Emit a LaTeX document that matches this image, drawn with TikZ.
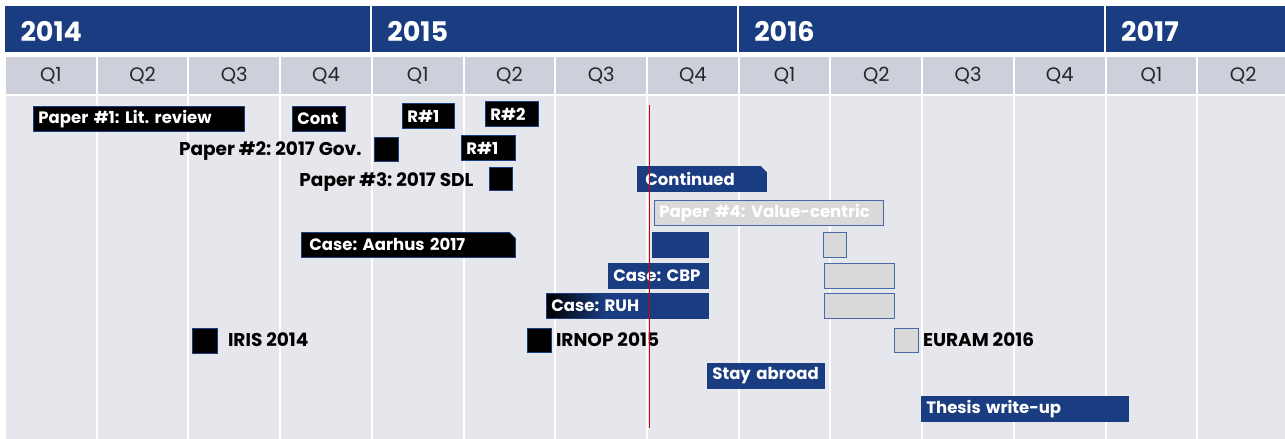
\documentclass[tikz,border=0pt]{standalone}
\usepackage{fontspec}
\setmainfont{Poppins}
\usetikzlibrary{positioning,shapes.misc}

\definecolor{navy}{HTML}{1A3D82}
\definecolor{qgrey}{HTML}{CDCFDA}
\definecolor{bodygrey}{HTML}{E6E7EC}
\definecolor{boxgrey}{HTML}{D9D9D9}
\definecolor{edgeblue}{HTML}{4A69A8}

\begin{document}
\begin{tikzpicture}[
    x=1pt, y=-1pt,
    year/.style={anchor=west, text=white, font=\bfseries\fontsize{27}{30}\selectfont},
    quarter/.style={text=black!85, font=\fontsize{19.5}{22}\selectfont},
    task/.style={rectangle, draw=navy, line width=0.8pt, anchor=north west, minimum height=25pt, inner xsep=5pt, inner ysep=0pt, align=left, text=white, font=\bfseries\fontsize{16.5}{19}\selectfont,
        execute at begin node={\hbox\bgroup\frenchspacing}, execute at end node={\egroup}},
    blacktask/.style={task, fill=black},
    bluetask/.style={task, fill=navy},
    greytask/.style={task, fill=boxgrey, draw=edgeblue},
    % black fading into navy over the left part of the bar, in thin strips
    fadetask/.style={bluetask, path picture={
        \foreach \i in {0,...,29} {
            \pgfmathtruncatemacro\p{\i*100/29}
            \fill[navy!\p!black] ([xshift=\i*2pt]path picture bounding box.north west)
                rectangle ([xshift=\i*2pt+2.3pt]path picture bounding box.south west);
        }}},
    snipped/.style={chamfered rectangle, chamfered rectangle corners=north east, chamfered rectangle xsep=3pt, chamfered rectangle ysep=3pt},
    barw/.style={text width=#1},
    marker/.style={rectangle, draw=navy, line width=0.8pt, fill=black, anchor=north west, minimum size=24pt, inner sep=0pt},
    note/.style={text=black, font=\bfseries\fontsize{18.5}{20}\selectfont\frenchspacing},
    nowline/.style={red!85!black, line width=1pt}
]
\useasboundingbox (0,0) rectangle (1285,439);

% Quarter columns
\foreach \q in {0,...,13} {
    \pgfmathsetmacro\xl{5+91.72*\q}
    \pgfmathtruncatemacro\qn{mod(\q,4)+1}
    \fill[qgrey] (\xl+1,57) rectangle (\xl+90.72,94);
    \fill[bodygrey] (\xl+1,96) rectangle (\xl+90.72,439);
    \node[quarter] (q\q) at (\xl+45.86,76) {Q\qn};
}

% Year header
\foreach \yr [count=\k from 0] in {2014,2015,2016,2017} {
    \pgfmathsetmacro\xl{5+366.88*\k}
    \fill[navy] (\xl,6) rectangle (\xl+364.88,52);
    \node[year] (y\yr) at (\xl+12,31) {\yr};
}

% Row 1-3: papers
\node[blacktask, barw=201pt] (lit) at (33,106) {Paper \#1: Lit. review};
\node[blacktask, barw=43pt] (cont) at (292,106) {Cont};
\node[blacktask, barw=42pt] (revA) at (402,103) {R\#1};
\node[blacktask, barw=43pt] (revB) at (485,101) {R\#2};
\node[marker] (gov) at (374,137) {};
\node[note, anchor=base east] (govtext) at (365,155.5) {Paper \#2: 2017 Gov.};
\node[blacktask, barw=44pt] (revC) at (461,135) {R\#1};
\node[marker, minimum size=23pt] (sdl) at (489,167) {};
\node[note, anchor=base east] (sdltext) at (477,186.5) {Paper \#3: 2017 SDL};

% Row 4-5: paper 4
\node[bluetask, snipped, barw=113pt] (continued) at (637,166) {Continued};
\node[greytask, barw=219pt, text=white] (value) at (654,200) {Paper \#4: Value-centric};

% Row 6-8: cases
\node[blacktask, snipped, barw=198pt] (aarhus) at (301,232) {Case: Aarhus 2017};
\node[bluetask, minimum width=56pt, inner xsep=0pt] (aarhusB) at (652,232) {};
\node[greytask, minimum width=23pt, inner xsep=0pt] (aarhusC) at (823,232) {};
\node[bluetask, barw=90pt] (cbp) at (608,263) {Case: CBP};
\node[greytask, minimum width=70pt, inner xsep=0pt] (cbpB) at (824,263) {};
\node[fadetask, barw=152pt] (ruh) at (546,293) {Case: RUH};
\node[greytask, minimum width=70pt, inner xsep=0pt] (ruhB) at (824,293) {};

% Row 9: conferences
\node[marker, minimum size=25pt] (iris) at (192,328) {};
\node[note, anchor=base west] (iristext) at (224.5,346.5) {IRIS 2014};
\node[marker] (irnop) at (527,328) {};
\node[note, anchor=base west] (irnoptext) at (552.5,346.5) {IRNOP 2015};
\node[marker, fill=boxgrey, draw=edgeblue] (euram) at (894,328) {};
\node[note, anchor=base west] (euramtext) at (919.5,346.5) {EURAM 2016};

% Row 10-11: abroad and write-up
\node[bluetask, barw=107pt] (abroad) at (707,363) {Stay abroad};
\node[bluetask, barw=197pt] (thesis) at (921,396) {Thesis write-up};

% Today marker
\coordinate (now top) at (649,105);
\coordinate (now bottom) at (649,428);
\draw[nowline] (now top) -- (now bottom);

\end{tikzpicture}
\end{document}
